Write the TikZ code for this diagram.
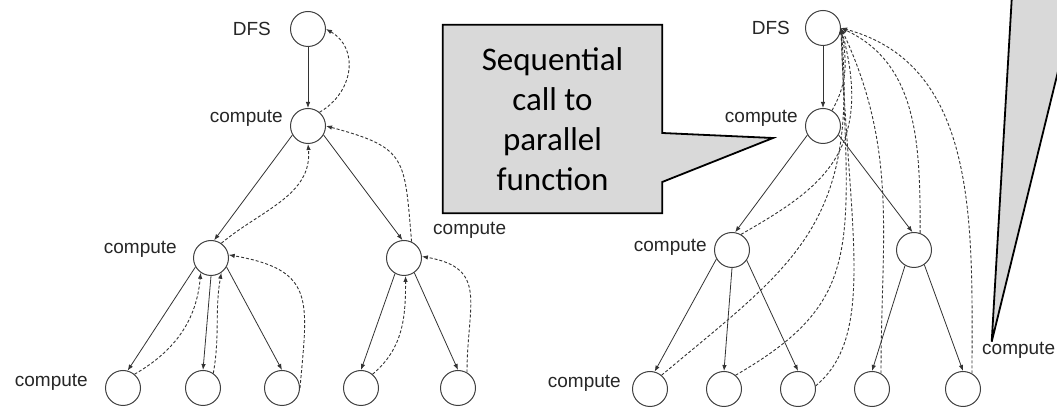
\documentclass[tikz,border=0pt]{standalone}
\usepackage{fontspec}
\setmainfont{Liberation Sans}
\newfontfamily\calloutfont{Carlito}
\usetikzlibrary{positioning,arrows.meta,backgrounds}
\tikzset{
vert/.style={circle, draw=black!75, line width=1pt, minimum size=35pt, inner sep=0pt},
lbl/.style={inner sep=0pt, font=\fontsize{19}{19}\selectfont, text=black!85},
call/.style={-{Latex[length=6pt,width=4.5pt]}, line width=0.8pt, draw=black!80},
ret/.style={-{Latex[length=6pt,width=4.5pt]}, line width=0.9pt, draw=black!80, dash pattern=on 3pt off 2pt},
bubble/.style={fill=black!15, draw=black, line width=1.8pt, line join=miter},
seqtext/.style={inner sep=0pt, minimum width=219pt, minimum height=188pt, align=center, font=\calloutfont\fontsize{33}{40}\selectfont}
}

\begin{document}
\begin{tikzpicture}[x=1pt,y=1pt]
\useasboundingbox (0,0) rectangle (1057,409);

% sequential DFS: every call returns to its parent
\node[vert] (ldfs) at (308,380) {};
\node[vert] (lc1) at (308,283) {};
\node[vert] (l2a) at (211,151) {};
\node[vert] (l2b) at (404,151) {};
\node[vert] (l3a) at (123,21) {};
\node[vert] (l3b) at (203,21) {};
\node[vert] (l3c) at (282,21) {};
\node[vert] (l3d) at (361,21) {};
\node[vert] (l3e) at (458,21) {};

\node[lbl, left=19pt of ldfs] (ldfsl) {DFS};
\node[lbl, left=7pt of lc1, yshift=8pt] (lc1l) {compute};
\node[lbl, left=16pt of l2a, yshift=9pt] (l2al) {compute};
\node[lbl, left=17pt of l3a, yshift=6pt] (l3al) {compute};
\node[lbl, right=11pt of l2b, yshift=28pt] (l2bl) {compute};

\draw[call] (ldfs) -- (lc1);
\draw[call] (lc1.-150) -- (l2a.80);
\draw[call] (lc1.-30) -- (l2b.95);
\draw[call] (l2a.-150) -- (l3a.75);
\draw[call] (l2a.south) -- (l3b.north);
\draw[call] (l2a.-30) -- (l3c.north);
\draw[call] (l2b.-120) -- (l3d.north);
\draw[call] (l2b.-55) -- (l3e.north);

\draw[ret] (lc1.50) to[out=30, in=-30, looseness=1.2] (ldfs.east);
\draw[ret] (l2a.55) to[out=40, in=-85] (lc1.south);
\draw[ret] (l2b.65) to[out=95, in=-15, looseness=1.5] (lc1.east);
\draw[ret] (l3a.50) to[out=30, in=-95] (l2a.-125);
\draw[ret] (l3b.55) to[out=80, in=-100] (l2a.-55);
\draw[ret] (l3c.east) to[out=85, in=-10, looseness=1.5] (l2a.10);
\draw[ret] (l3d.50) to[out=40, in=-90] (l2b.-85);
\draw[ret] (l3e.60) to[out=90, in=-10, looseness=1.4] (l2b.5);

% parallel version: every call returns to DFS
\node[vert] (rdfs) at (823,381) {};
\node[vert] (rc1) at (823,283) {};
\node[vert] (r2a) at (732,159) {};
\node[vert] (r2b) at (914,159) {};
\node[vert] (r3a) at (650,20) {};
\node[vert] (r3b) at (724,20) {};
\node[vert] (r3c) at (798,20) {};
\node[vert] (r3d) at (872,20) {};
\node[vert] (r3e) at (963,20) {};

\node[lbl, left=15pt of rdfs] (rdfsl) {DFS};
\node[lbl, left=7pt of rc1, yshift=8pt] (rc1l) {compute};
\node[lbl, left=7pt of r2a, yshift=3pt] (r2al) {compute};
\node[lbl, left=11pt of r3a, yshift=6pt] (r3al) {compute};
\node[lbl, right=1pt of r3e, yshift=39pt] (r3el) {compute};

\draw[call] (rdfs) -- (rc1);
\draw[call] (rc1.-150) -- (r2a.80);
\draw[call] (rc1.-30) -- (r2b.95);
\draw[call] (r2a.-150) -- (r3a.75);
\draw[call] (r2a.south) -- (r3b.north);
\draw[call] (r2a.-35) -- (r3c.north);
\draw[call] (r2b.-120) -- (r3d.north);
\draw[call] (r2b.-55) -- (r3e.north);

\draw[ret] (rc1.60) to[out=60, in=-80] (rdfs.east);
\draw[ret] (r2a.60) to[out=30, in=-75, out distance=90pt, in distance=130pt] (rdfs.east);
\draw[ret] (r2b.70) to[out=90, in=-25] (rdfs.east);
\draw[ret] (r3a.50) to[out=40, in=-85, out distance=170pt, in distance=200pt] (rdfs.east);
\draw[ret] (r3b.50) to[out=30, in=-88, out distance=150pt, in distance=220pt] (rdfs.east);
\draw[ret] (r3c.10) to[out=40, in=-88, out distance=80pt, in distance=200pt] (rdfs.east);
\draw[ret] (r3d.60) to[out=90, in=-65] (rdfs.east);
\draw[ret] (r3e.60) to[out=90, in=-15] (rdfs.east);

% callouts
\node[seqtext] (seq) at (552.5,290) {Sequential\\call to\\parallel\\function};
\coordinate (seqtip) at (773,271);
\coordinate (cmptip) at (991.7,67.3);
\begin{scope}[on background layer]
\draw[bubble] (seq.north west) -- (seq.north east) -- ([yshift=-14pt]seq.east) -- (seqtip)
  -- ([yshift=-63pt]seq.east) -- (seq.south east) -- (seq.south west) -- cycle;
\clip (0,0) rectangle (1057,409);
\draw[bubble] (1012.3,420) -- (cmptip) -- (1078.2,420) -- cycle;
\end{scope}
\end{tikzpicture}
\end{document}
